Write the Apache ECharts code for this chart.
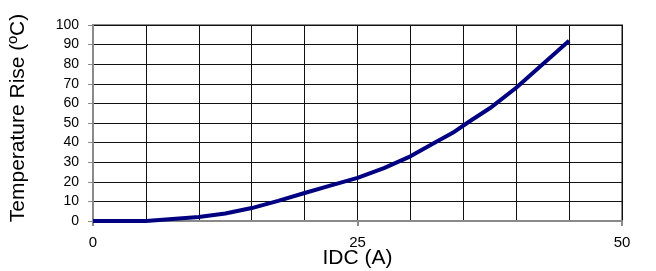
<!DOCTYPE html>
<html>
<head>
<meta charset="utf-8">
<script src="https://cdn.jsdelivr.net/npm/echarts@6/dist/echarts.min.js"></script>
<style>
  html, body { margin: 0; padding: 0; background: #fff; }
</style>
</head>
<body>
<div id="chart" style="width: 656px; height: 271px;"></div>
<script>
// current (A) vs temperature rise (C)
var current = [0, 5, 7.5, 10, 12.5, 15, 17.5, 20, 22.5, 25, 27.5, 30, 32.5, 34, 35.5, 37.5, 40, 42.5, 45];
var tempRise = [0, 0, 1, 2, 3.8, 6.6, 10.3, 14.3, 18.2, 22, 27, 33, 40.5, 45, 50.5, 57.5, 68, 80, 92];
var xTicks = [0, 25, 50];

var chart = echarts.init(document.getElementById('chart'));

var option = {
    animation: false,
    grid: {
        left: 93,
        right: 34,
        top: 25,
        bottom: 50,
        containLabel: false,
        outerBoundsMode: 'none',
        show: true,
        borderColor: '#8a8a8a',
        borderWidth: 2
    },
    xAxis: {
        type: 'value',
        min: 0,
        max: 50,
        interval: 25,
        name: 'IDC (A)',
        nameLocation: 'middle',
        nameMoveOverlap: false,
        nameGap: 27,
        nameTextStyle: { fontFamily: 'Liberation Sans', fontSize: 21, color: '#000' },
        axisLine: { lineStyle: { color: '#8a8a8a', width: 2 } },
        axisTick: { show: true, length: 5, lineStyle: { color: '#8a8a8a', width: 2 } },
        axisLabel: {
            margin: 14,
            fontFamily: 'Liberation Sans',
            fontSize: 15,
            color: '#000',
            formatter: function (v) { return xTicks.indexOf(v) >= 0 ? String(v) : ''; }
        },
        splitLine: { show: true, lineStyle: { color: '#111', width: 1 } },
        minorTick: { show: false, splitNumber: 5 },
        minorSplitLine: { show: true, lineStyle: { color: '#111', width: 1 } }
    },
    yAxis: {
        type: 'value',
        min: 0,
        max: 100,
        interval: 10,
        name: 'Temperature Rise (ºC)',
        nameLocation: 'middle',
        nameGap: 64,
        nameTextStyle: { fontFamily: 'Liberation Sans', fontSize: 21, color: '#000', padding: [0, 0, 0, 10] },
        axisLine: { show: true, lineStyle: { color: '#8a8a8a', width: 2 } },
        axisTick: { show: true, length: 5, lineStyle: { color: '#8a8a8a', width: 1 } },
        axisLabel: {
            margin: 14,
            fontFamily: 'Liberation Sans',
            fontSize: 14,
            color: '#000'
        },
        splitLine: { show: true, lineStyle: { color: '#111', width: 1 } }
    },
    series: [
        {
            type: 'line',
            data: current.map(function (x, i) { return [x, tempRise[i]]; }),
            showSymbol: false,
            smooth: false,
            lineStyle: { color: '#000080', width: 4 }
        }
    ]
};

chart.setOption(option);
</script>
</body>
</html>
